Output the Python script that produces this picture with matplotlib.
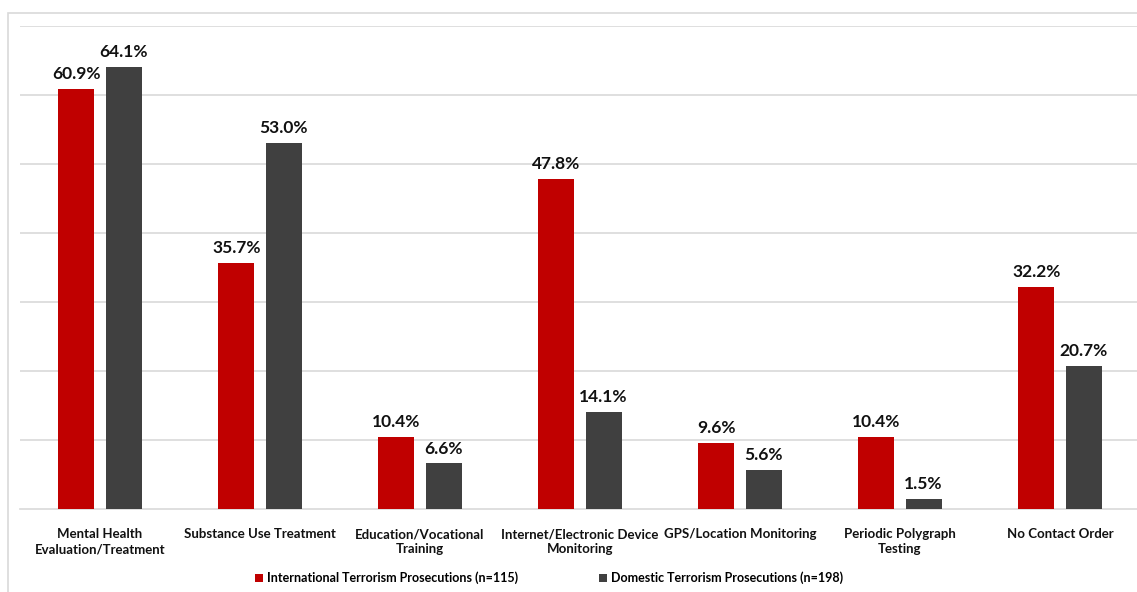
import matplotlib
matplotlib.use("Agg")
import matplotlib.pyplot as plt
from matplotlib.patches import Rectangle
import numpy as np

categories = [
    "Mental Health\nEvaluation/Treatment",
    "Substance Use Treatment",
    "Education/Vocational\nTraining",
    "Internet/Electronic Device\nMonitoring",
    "GPS/Location Monitoring",
    "Periodic Polygraph\nTesting",
    "No Contact Order",
]
international = [60.9, 35.7, 10.4, 47.8, 9.6, 10.4, 32.2]
domestic = [64.1, 53.0, 6.6, 14.1, 5.6, 1.5, 20.7]
series_names = [
    "International Terrorism Prosecutions (n=115)",
    "Domestic Terrorism Prosecutions (n=198)",
]

RED = "#C00000"
GRAY = "#404040"
GRID = "#D9D9D9"

plt.rcParams["font.family"] = ["Lato", "DejaVu Sans"]

W, H = 1137, 592
fig = plt.figure(figsize=(W / 100, H / 100), dpi=100)

# outer chart frame
fig.patches.append(Rectangle((8 / W, -0.1), 1.2, 1 - 13 / H + 0.1,
                             transform=fig.transFigure, fill=False,
                             edgecolor=GRID, linewidth=1.2))

ax = fig.add_axes([20 / W, 83 / H, 1120 / W, (566 - 83) / H])
x = np.arange(len(categories))
bw = 0.225
gap = 0.07
b1 = ax.bar(x - (bw + gap) / 2, international, bw, color=RED, label=series_names[0], zorder=3)
b2 = ax.bar(x + (bw + gap) / 2, domestic, bw, color=GRAY, label=series_names[1], zorder=3)

for bars, vals in ((b1, international), (b2, domestic)):
    for rect, v in zip(bars, vals):
        ax.annotate(f"{v:.1f}%", (rect.get_x() + rect.get_width() / 2, v),
                    xytext=(0, 5), textcoords="offset points",
                    ha="center", va="bottom", fontsize=12.5, fontweight="bold",
                    color="#111111")

ax.set_xlim(-0.5, len(categories) - 0.5)
ax.set_ylim(0, 70)
ax.set_yticks(np.arange(10, 71, 10))
ax.yaxis.grid(True, color=GRID, linewidth=1.2, zorder=0)
ax.tick_params(axis="y", left=False, labelleft=False)
ax.set_xticks(x)
ax.set_xticklabels(categories, fontsize=9.5, fontweight="bold", color="#111111",
                   linespacing=1.3, va="top")
ax.tick_params(axis="x", length=0, pad=14)
for s in ("top", "right", "left"):
    ax.spines[s].set_visible(False)
ax.spines["bottom"].set_color(GRID)
ax.spines["bottom"].set_linewidth(1.2)
ax.set_facecolor("none")

fig.legend(handles=[b1, b2], labels=series_names, loc="center",
           bbox_to_anchor=(549 / W, 1 - 578 / H), ncol=2, frameon=False,
           prop={"size": 9, "weight": "bold"}, handlelength=0.65,
           handleheight=0.65, handletextpad=0.3, columnspacing=6.5)

fig.savefig("out.png", dpi=100)
